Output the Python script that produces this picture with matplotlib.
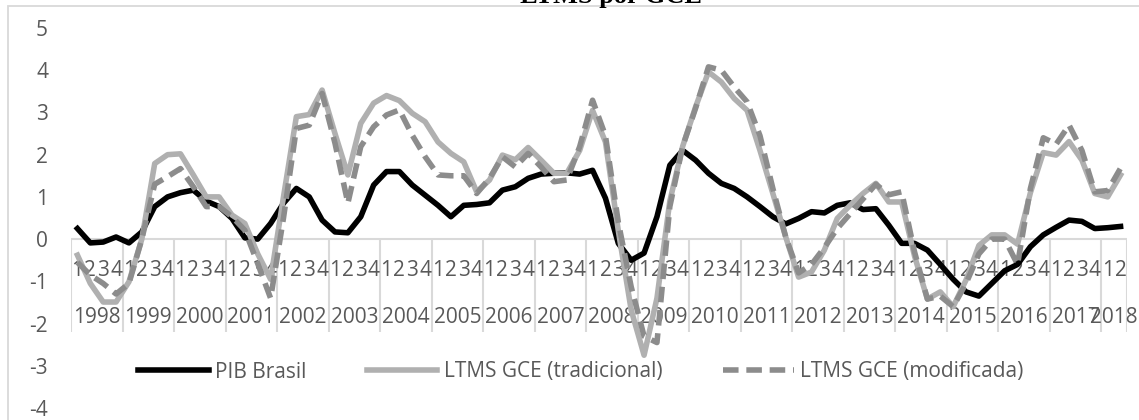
import matplotlib
matplotlib.use("Agg")
import numpy as np
import matplotlib.pyplot as plt
from matplotlib.patches import Rectangle

plt.rcParams["font.family"] = ["Open Sans", "DejaVu Sans"]
plt.rcParams["axes.unicode_minus"] = False

# quarterly series, 1998Q1 .. 2018Q2
years = [str(y) for y in range(1998, 2019)]
quarters = ["1", "2", "3", "4"] * 20 + ["1", "2"]

pib = [0.25, -0.09, -0.07, 0.05, -0.09, 0.17, 0.77, 1.0, 1.1, 1.16,
       0.9, 0.77, 0.49, 0.03, 0.0, 0.37, 0.85, 1.2, 1.0, 0.45,
       0.17, 0.15, 0.53, 1.28, 1.6, 1.6, 1.28, 1.04, 0.8, 0.53,
       0.8, 0.82, 0.86, 1.16, 1.24, 1.44, 1.54, 1.56, 1.57, 1.54,
       1.63, 0.97, -0.1, -0.5, -0.33, 0.53, 1.75, 2.1, 1.87, 1.56,
       1.32, 1.2, 1.0, 0.77, 0.53, 0.36, 0.49, 0.65, 0.62, 0.8,
       0.86, 0.7, 0.72, 0.33, -0.1, -0.1, -0.26, -0.6, -0.95, -1.25,
       -1.35, -1.05, -0.75, -0.6, -0.18, 0.1, 0.28, 0.45, 0.42, 0.25,
       0.27, 0.3]

tradicional = [-0.38, -1.05, -1.49, -1.49, -1.01, 0.0, 1.79, 2.0, 2.02, 1.52,
               1.0, 1.0, 0.57, 0.37, -0.35, -0.95, 1.0, 2.9, 2.95, 3.53,
               2.5, 1.52, 2.74, 3.22, 3.4, 3.28, 2.98, 2.78, 2.3, 2.03,
               1.83, 1.12, 1.4, 1.99, 1.88, 2.17, 1.87, 1.56, 1.56, 2.1,
               3.05, 2.3, 0.2, -1.68, -2.75, -1.4, 0.9, 2.2, 3.13, 3.96,
               3.72, 3.33, 3.05, 2.1, 1.08, 0.05, -0.9, -0.78, -0.26, 0.49,
               0.8, 1.08, 1.32, 0.88, 0.88, -0.4, -1.42, -1.25, -1.6, -0.97,
               -0.15, 0.1, 0.1, -0.12, 1.1, 2.05, 1.99, 2.31, 1.87, 1.08,
               1.0, 1.52]

modificada = [-0.55, -0.85, -1.05, -1.3, -1.05, 0.0, 1.3, 1.48, 1.67, 1.24,
              0.77, 0.77, 0.53, 0.21, -0.58, -1.4, 0.5, 2.62, 2.7, 3.45,
              2.27, 0.85, 2.19, 2.66, 2.94, 3.06, 2.46, 1.95, 1.52, 1.5,
              1.5, 1.08, 1.44, 1.95, 1.71, 2.03, 1.71, 1.36, 1.4, 2.19,
              3.29, 2.45, 0.4, -1.13, -2.3, -2.45, 0.77, 2.2, 3.1, 4.08,
              4.0, 3.6, 3.25, 2.45, 1.2, 0.05, -0.8, -0.6, -0.2, 0.25,
              0.6, 0.95, 1.3, 1.05, 1.12, -0.3, -1.42, -1.35, -1.6, -1.05,
              -0.35, 0.0, 0.0, -0.6, 1.2, 2.4, 2.25, 2.7, 2.1, 1.12,
              1.15, 1.68]

TXT = "#595959"
GRID = "#D9D9D9"
FS = 15

W, H = 1139, 420
fig = plt.figure(figsize=(W / 100, H / 100), dpi=100)
ax = fig.add_axes([71 / W, 1 - 408 / H, (1127 - 71) / W, (408 - 28) / H])

# chart frame (runs off the right and bottom edges)
fig.patches.append(Rectangle((7.5 / W, -0.1), 1.2, 1.1 - 6.5 / H,
                             transform=fig.transFigure, fill=False,
                             ec=GRID, lw=1.3))
fig.text(611 / W, 1 - 3 / H, "LTMS por GCE", family="Liberation Serif",
         weight="bold", fontsize=19, ha="center", va="baseline")

x = np.arange(len(pib))
ax.plot(x, pib, color="black", lw=4, solid_joinstyle="round",
        label="PIB Brasil", zorder=3)
ax.plot(x, tradicional, color="#B0B0B0", lw=4, solid_joinstyle="round",
        label="LTMS GCE (tradicional)", zorder=4)
ax.plot(x, modificada, color="#8C8C8C", lw=4, dashes=(2.8, 1.4),
        dash_capstyle="butt", label="LTMS GCE (modificada)", zorder=5)

ax.set_xlim(-0.5, len(pib) - 0.5)
ax.set_ylim(-4, 5)
ax.set_yticks(range(-4, 6))
ax.set_xticks([])
ax.tick_params(axis="y", length=0, pad=16.5, labelsize=FS, labelcolor=TXT)
for s in ax.spines.values():
    s.set_visible(False)

# two-level category axis sitting on y = 0
ax.axhline(0, color=GRID, lw=1.5, zorder=1)
bounds = list(range(0, len(pib), 4)) + [len(pib)]
ax.vlines(np.array(bounds) - 0.5, -2.2, 0, color=GRID, lw=1.5, zorder=1)
for i, q in enumerate(quarters):
    ax.text(i, -0.75, q, ha="center", va="center", fontsize=FS,
            color=TXT, zorder=2)
for k, yr in enumerate(years):
    lo, hi = bounds[k], bounds[k + 1]
    ax.text((lo + hi - 1) / 2, -1.85, yr, ha="center", va="center",
            fontsize=FS, color=TXT, zorder=2)

ax.legend(ncol=3, loc="center", bbox_to_anchor=(580.5 / W, 1 - 372 / H),
          bbox_transform=fig.transFigure, frameon=False, handlelength=3.4,
          handletextpad=0.3, columnspacing=2.9, fontsize=FS,
          labelcolor=TXT)

fig.savefig("out.png", dpi=100)
